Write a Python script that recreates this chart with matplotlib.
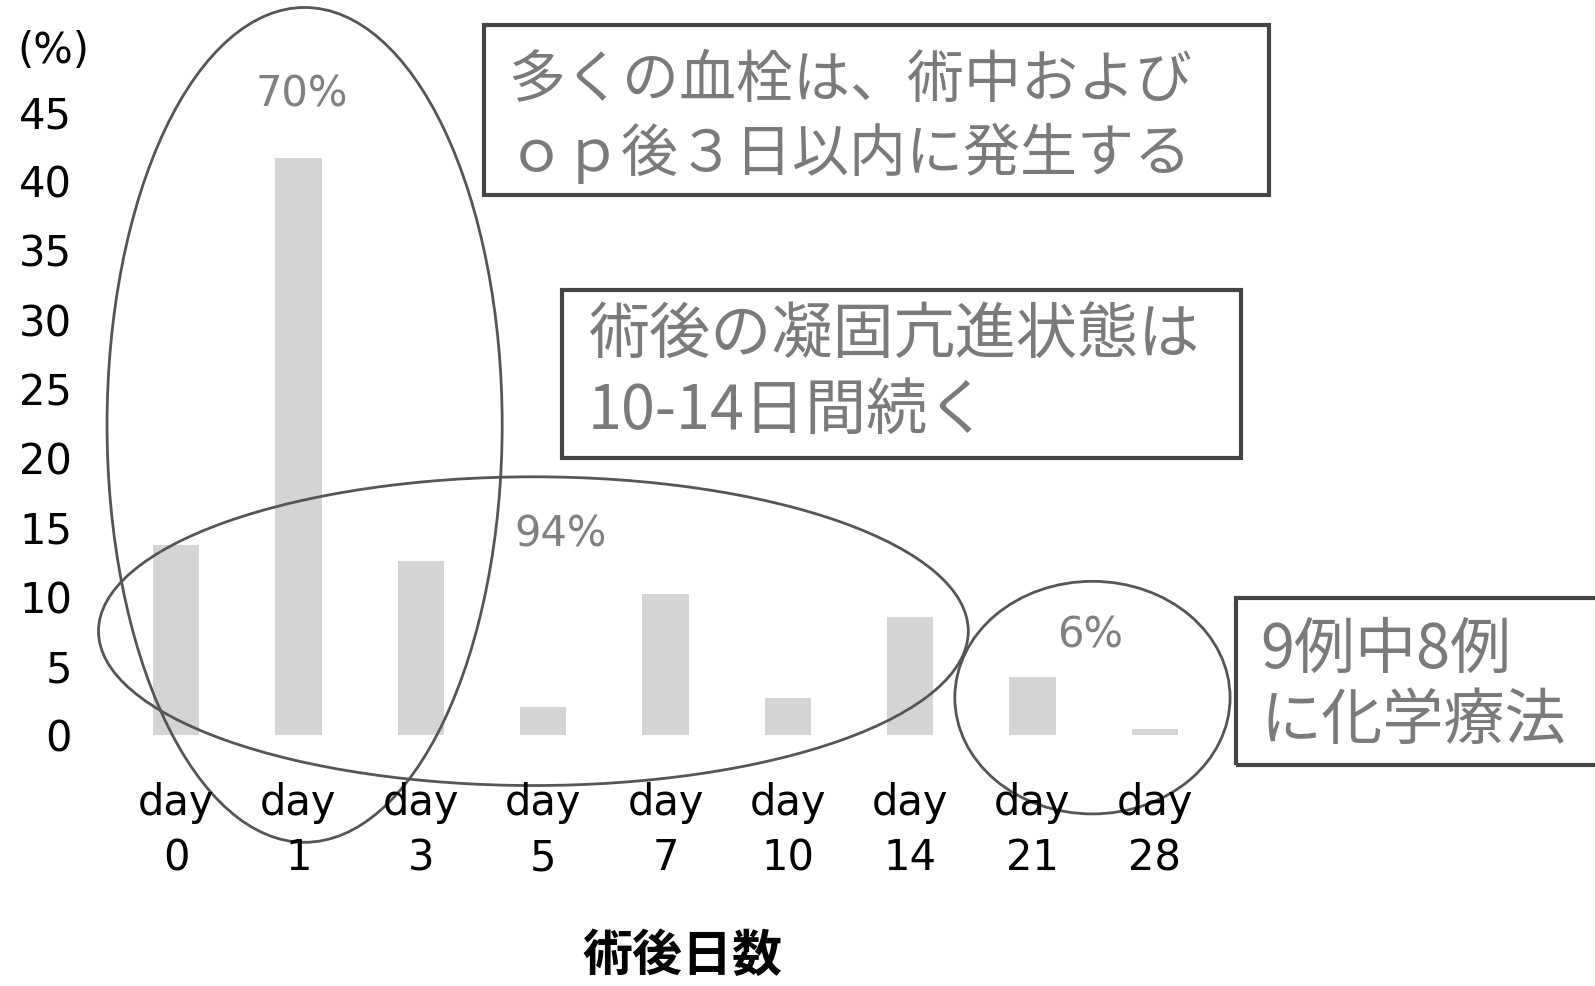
#imports for plotting
import matplotlib
matplotlib.use("Agg")
import matplotlib.pyplot as plt
from matplotlib.patches import Ellipse, Rectangle

plt.rcParams['font.family'] = ['DejaVu Sans', 'Noto Sans CJK JP']
jp = ['Noto Sans CJK JP', 'DejaVu Sans']

#data
days = ["0", "1", "3", "5", "7", "10", "14", "21", "28"]
percent = [13.7, 41.7, 12.6, 2.0, 10.2, 2.7, 8.5, 4.2, 0.4]
yticks = [0, 5, 10, 15, 20, 25, 30, 35, 40, 45]
box_texts = [
    ["多くの血栓は、術中および", "ｏｐ後３日以内に発生する"],
    ["術後の凝固亢進状態は", "10-14日間続く"],
    ["9例中8例", "に化学療法"],
]
group_labels = ["70%", "94%", "6%"]

W, H = 1595, 986
fig = plt.figure(figsize=(W / 100, H / 100), dpi=100)
fig.patch.set_facecolor("white")

#pixel helper (x from left, y from top)
def fx(px):
    return px / W

def fy(py):
    return 1 - py / H

ax = fig.add_axes([fx(115), fy(735), fx(1216) - fx(115), fy(112) - fy(735)])
x = list(range(len(days)))
ax.bar(x, percent, width=0.38, color="#d4d4d4", edgecolor="none")
ax.set_xlim(-0.5, 8.5)
ax.set_ylim(0, 45)
ax.set_yticks(yticks)
ax.set_yticklabels([str(v) for v in yticks], fontsize=30)
ax.set_xticks(x)
ax.set_xticklabels(["day\n" + d for d in days], fontsize=30, linespacing=1.4)
ax.tick_params(axis="y", length=0, pad=31)
ax.tick_params(axis="x", length=0, pad=34)
for s in ax.spines.values():
    s.set_visible(False)

#group ellipses
ell_color = "#555555"
ax.add_patch(Ellipse((1.05, 22.4), 3.23, 60.3, fill=False, edgecolor=ell_color, lw=2, clip_on=False))
ax.add_patch(Ellipse((2.92, 7.5), 7.11, 22.3, fill=False, edgecolor=ell_color, lw=2, clip_on=False))
ax.add_patch(Ellipse((7.49, 2.7), 2.25, 16.8, fill=False, edgecolor=ell_color, lw=2, clip_on=False))

ax.text(1.03, 46.3, group_labels[0], fontsize=30, color="#808080", ha="center", va="center", clip_on=False)
ax.text(3.14, 14.5, group_labels[1], fontsize=30, color="#808080", ha="center", va="center", clip_on=False)
ax.text(7.47, 7.2, group_labels[2], fontsize=30, color="#808080", ha="center", va="center", clip_on=False)

#annotation boxes
boxes = [
    (484, 25, 1269, 195, 508, [81, 153], 41),
    (562, 290, 1241, 458, 588, [336, 412], 44),
    (1236, 598, 1640, 765, 1260, [651, 722], 44),
]
for (x0, y0, x1, y1, tx, lines_y, fs), lines in zip(boxes, box_texts):
    fig.add_artist(Rectangle((fx(x0), fy(y1)), fx(x1) - fx(x0), fy(y0) - fy(y1),
                             transform=fig.transFigure, fill=False, edgecolor="#444444", lw=3))
    for ly, line in zip(lines_y, lines):
        fig.text(fx(tx), fy(ly), line, fontsize=fs, color="#7a7a7a", family=jp, ha="left", va="center")

fig.text(fx(53), fy(51), "(%)", fontsize=30, ha="center", va="center")
fig.text(fx(682), fy(956), "術後日数", fontsize=36, fontweight="bold", family=jp, ha="center", va="center")

fig.savefig("out.png", dpi=100)
